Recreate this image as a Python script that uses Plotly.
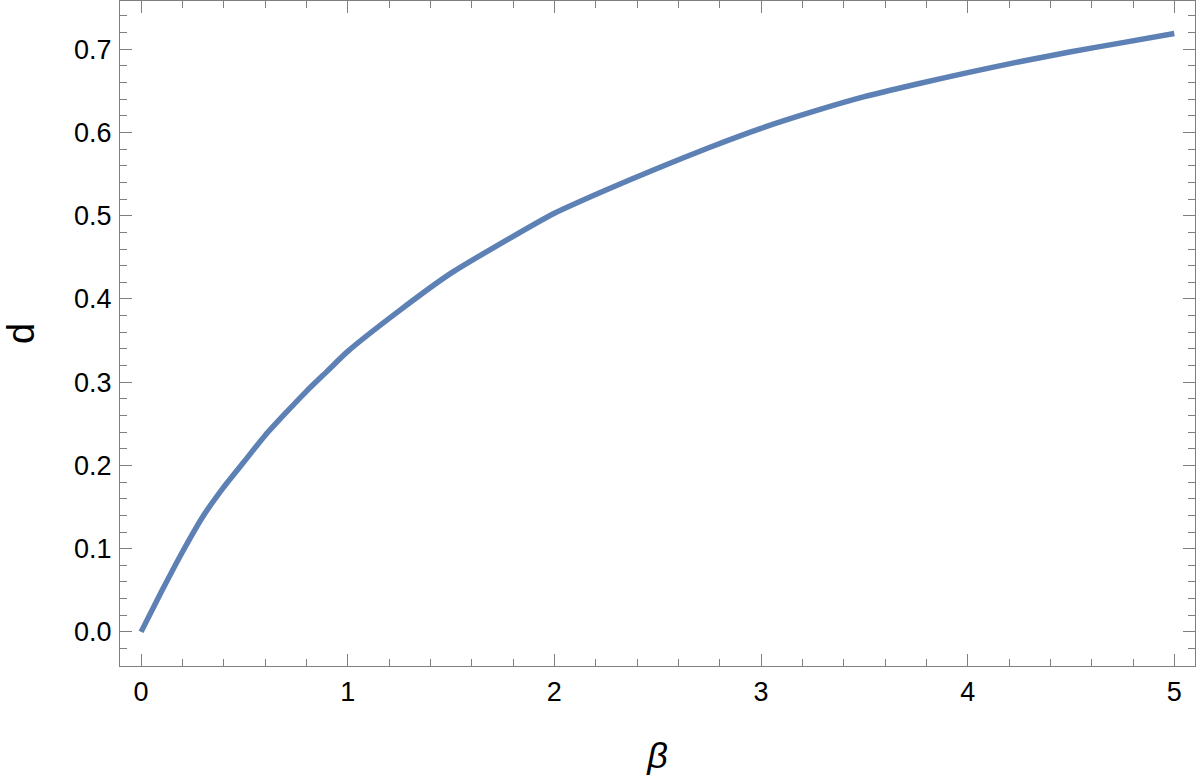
import plotly.graph_objects as go

beta = [0, 0.1, 0.2, 0.3, 0.4, 0.5, 0.6, 0.7, 0.8, 0.9, 1.0, 1.25, 1.5, 1.75,
        2.0, 2.25, 2.5, 2.75, 3.0, 3.25, 3.5, 3.75, 4.0, 4.25, 4.5, 4.75, 5.0]
d = [0.0, 0.049, 0.096, 0.139, 0.174, 0.205, 0.236, 0.263, 0.289, 0.313, 0.337,
     0.386, 0.431, 0.468, 0.503, 0.531, 0.557, 0.582, 0.605, 0.625, 0.643,
     0.658, 0.672, 0.685, 0.697, 0.708, 0.719]

x_ticks = [0, 1, 2, 3, 4, 5]
y_ticks = [0.0, 0.1, 0.2, 0.3, 0.4, 0.5, 0.6, 0.7]
y_labels = ["0.0", "0.1", "0.2", "0.3", "0.4", "0.5", "0.6", "0.7"]

FONT = "Liberation Sans, Arial"

fig = go.Figure()
fig.add_trace(go.Scatter(x=beta, y=d, mode="lines",
                         line=dict(color="#5E81B5", width=5.5, shape="spline", smoothing=0.6),
                         showlegend=False))

axis_common = dict(
    showgrid=False, zeroline=False, showline=True, linecolor="#7f7f7f", linewidth=1.2,
    ticks="inside", ticklen=12, tickwidth=1.2, tickcolor="#7f7f7f", mirror="allticks",
    tickfont=dict(family=FONT, size=27, color="black"), automargin=False,
)

fig.update_xaxes(range=[-0.102, 5.1], tickvals=x_ticks,
                 minor=dict(dtick=0.2, ticks="inside", ticklen=7, tickwidth=1.2, tickcolor="#7f7f7f"),
                 ticklabelstandoff=1,
                 title=dict(text="<i>β</i>", font=dict(family=FONT, size=36, color="black"), standoff=37),
                 **axis_common)
fig.update_yaxes(range=[-0.041, 0.758], tickvals=y_ticks, ticktext=y_labels,
                 minor=dict(dtick=0.02, ticks="inside", ticklen=7, tickwidth=1.2, tickcolor="#7f7f7f"),
                 ticklabelstandoff=2,
                 title=dict(text="d", font=dict(family=FONT, size=38, color="black"), standoff=34),
                 **axis_common)

fig.update_layout(width=1200, height=778, margin=dict(l=120, r=5, t=1, b=112),
                  plot_bgcolor="white", paper_bgcolor="white")

fig.write_html("out.html", config={"displayModeBar": False},
               post_script="document.body.style.margin='0';")
